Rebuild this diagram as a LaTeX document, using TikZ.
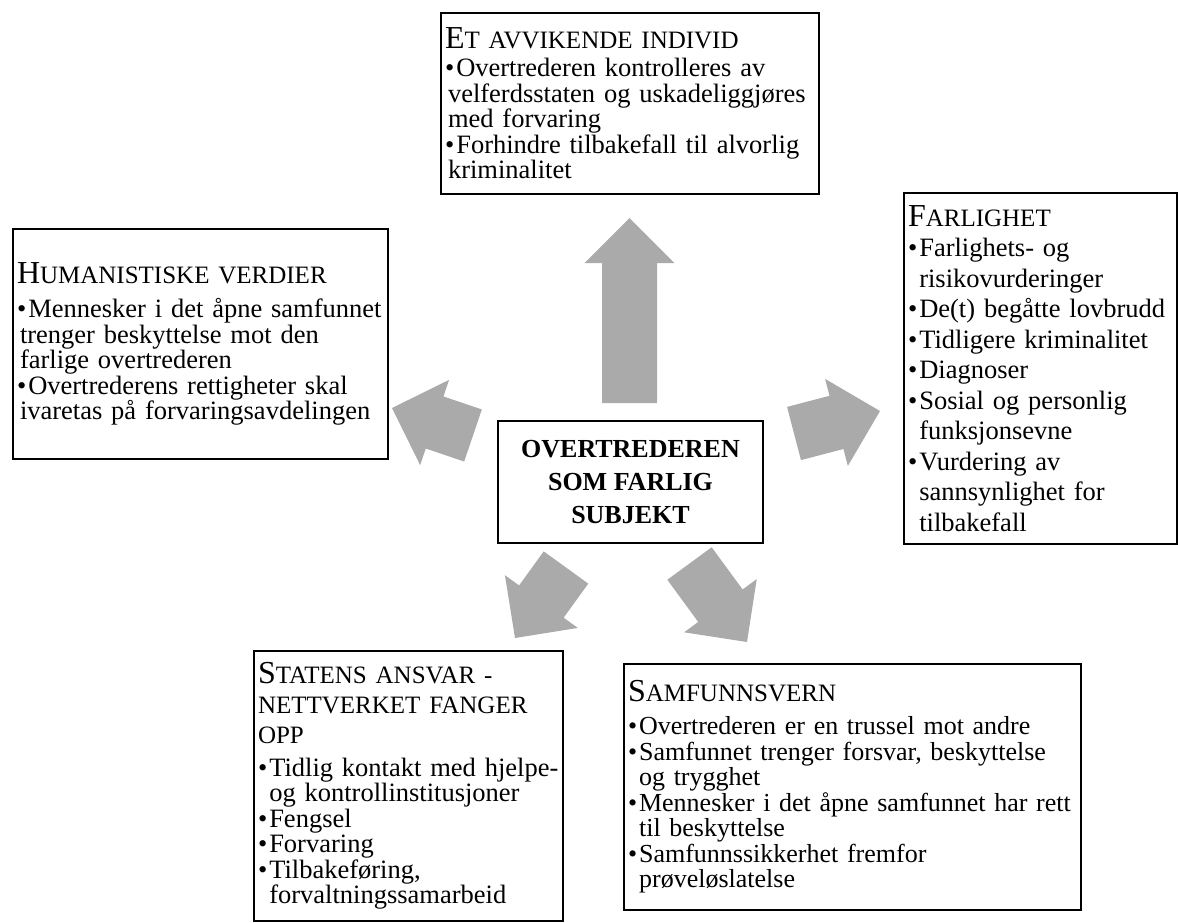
\documentclass[tikz,border=0pt]{standalone}
\usepackage{fontspec}
\setmainfont{Liberation Serif}
\usetikzlibrary{calc}
\definecolor{arrowgray}{RGB}{170,170,170}
\newcommand\firstcap[1]{{\fontsize{32}{32}\selectfont #1}}
\newcommand\restcap[1]{{\fontsize{25}{25}\selectfont #1}}
\newcommand\bul{\textbullet\hspace{2pt}}
\newcommand\contline{\hphantom{\textbullet}\hspace{2pt}}
\newcommand\smallind{\hspace*{3pt}}
% block arrow from tail (#1) to tip (#2)
\def\blockarrow(#1)(#2);{
	\coordinate (hb) at ($(#2)!45pt!(#1)$);
	\fill[arrowgray] ($(#1)!27.5pt!90:(#2)$) -- ($(hb)!27.5pt!90:(#2)$) -- ($(hb)!45pt!90:(#2)$) -- (#2)
		-- ($(hb)!45pt!-90:(#2)$) -- ($(hb)!27.5pt!-90:(#2)$) -- ($(#1)!27.5pt!-90:(#2)$) -- cycle;}

\tikzset{
	box/.style={draw, line width=2pt, anchor=north west, align=left, inner xsep=4pt, inner ysep=0pt,
		font=\fontsize{26.5}{25.5}\selectfont},
	centerbox/.style={draw, line width=2pt, anchor=north west, align=center, inner sep=0pt,
		font=\fontsize{26}{33}\selectfont\bfseries}
}

\begin{document}
\begin{tikzpicture}[x=1pt, y=-1pt]
		%%%%% START %%%%%
		\useasboundingbox (0,0) rectangle (1178,922);
		
		\node[centerbox, minimum width=265, minimum height=122] (subjekt) at (497,420) {OVERTREDEREN\\SOM FARLIG\\SUBJEKT};
		
		\node[box, text width=370, minimum height=181] (individ) at (440,12) {\firstcap{E}\restcap{T AVVIKENDE INDIVID}\\[2.5pt]
			\bul Overtrederen kontrolleres av\\
			\smallind velferdsstaten og uskadeliggjøres\\
			\smallind med forvaring\\
			\bul Forhindre tilbakefall til alvorlig\\
			\smallind kriminalitet};
		
		\node[box, text width=367, minimum height=230] (humanisme) at (12,228) {\firstcap{H}\restcap{UMANISTISKE VERDIER}\\[8.5pt]
			\bul Mennesker i det åpne samfunnet\\
			\smallind trenger beskyttelse mot den\\
			\smallind farlige overtrederen\\
			\bul Overtrederens rettigheter skal\\
			\smallind ivaretas på forvaringsavdelingen};
		
		\node[box, text width=265, minimum height=351, font=\fontsize{26.5}{30.5}\selectfont] (farlighet) at (903,192) {\firstcap{F}\restcap{ARLIGHET}\\
			\bul Farlighets- og\\
			\contline risikovurderinger\\
			\bul De(t) begåtte lovbrudd\\
			\bul Tidligere kriminalitet\\
			\bul Diagnoser\\
			\bul Sosial og personlig\\
			\contline funksjonsevne\\
			\bul Vurdering av\\
			\contline sannsynlighet for\\
			\contline tilbakefall};
		
		\node[box, text width=301, minimum height=270] (statens) at (253,650) {\firstcap{S}\restcap{TATENS ANSVAR -}\\[4.5pt]
			\restcap{NETTVERKET FANGER}\\[4.5pt]
			\restcap{OPP}\\[7.5pt]
			\bul Tidlig kontakt med hjelpe-\\
			\contline og kontrollinstitusjoner\\
			\bul Fengsel\\
			\bul Forvaring\\
			\bul Tilbakeføring,\\
			\contline forvaltningssamarbeid};
		
		\node[box, text width=449, minimum height=246, font=\fontsize{26}{25.5}\selectfont] (samfunn) at (623,663) {\firstcap{S}\restcap{AMFUNNSVERN}\\[7.5pt]
			\bul Overtrederen er en trussel mot andre\\
			\bul Samfunnet trenger forsvar, beskyttelse\\
			\contline og trygghet\\
			\bul Mennesker i det åpne samfunnet har rett\\
			\contline til beskyttelse\\
			\bul Samfunnssikkerhet fremfor\\
			\contline prøveløslatelse};
		
		\coordinate (uptail) at (629.5,403);
		\coordinate (uptip) at (629.5,218);
		\coordinate (lefttail) at (473,435.5);
		\coordinate (lefttip) at (392,408);
		\coordinate (righttail) at (794,433.5);
		\coordinate (righttip) at (880,411);
		\coordinate (bltail) at (566,567.5);
		\coordinate (bltip) at (515,638);
		\coordinate (brtail) at (689.5,563.5);
		\coordinate (brtip) at (747,642);
		
		\blockarrow(uptail)(uptip);
		\blockarrow(lefttail)(lefttip);
		\blockarrow(righttail)(righttip);
		\blockarrow(bltail)(bltip);
		\blockarrow(brtail)(brtip);
		%%%%% END %%%%%
	\end{tikzpicture}
\end{document}
